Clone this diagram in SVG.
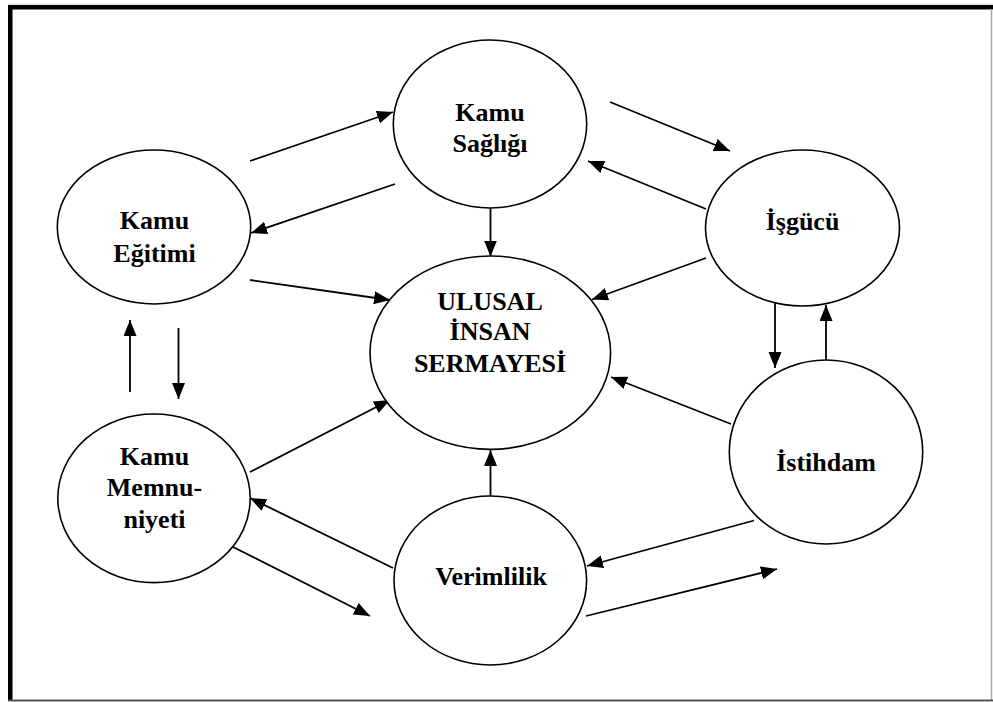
<svg xmlns="http://www.w3.org/2000/svg" width="993" height="702" viewBox="0 0 993 702">
<style>
.node ellipse{fill:#fff;stroke:#000;stroke-width:1.6}
.node text{font-family:"Liberation Serif","Times New Roman",serif;font-weight:bold;font-size:26px;fill:#000;text-anchor:middle}
.conn line{stroke:#000;stroke-width:1.8;marker-end:url(#ah)}
</style>
<defs>
<marker id="ah" markerUnits="userSpaceOnUse" markerWidth="17" markerHeight="14" refX="16" refY="6.5" orient="auto">
<path d="M0,0 L16,6.5 L0,13 z" fill="#000"/>
</marker>
</defs>
<rect width="993" height="702" fill="#fff"/>
<g id="frame">
<line x1="8" y1="4" x2="993" y2="4" stroke="#ccc" stroke-width="1"/>
<rect x="8" y="5" width="985" height="4.5" fill="#000"/>
<rect x="8" y="5" width="4.5" height="696" fill="#000"/>
<line x1="991.5" y1="9" x2="991.5" y2="701" stroke="#aaa" stroke-width="1.5"/>
<line x1="8" y1="700.5" x2="993" y2="700.5" stroke="#555" stroke-width="2"/>
</g>
<g class="conn" id="connectors">
<line x1="250" y1="161" x2="393" y2="112"/>
<line x1="395" y1="184" x2="251" y2="233"/>
<line x1="250" y1="280" x2="390" y2="300"/>
<line x1="490.5" y1="208" x2="490.5" y2="256.5"/>
<line x1="706" y1="258" x2="592" y2="299.5"/>
<line x1="706" y1="209" x2="588" y2="161"/>
<line x1="610" y1="102" x2="730" y2="151"/>
<line x1="775" y1="300" x2="775" y2="368"/>
<line x1="826" y1="378" x2="826" y2="305"/>
<line x1="731" y1="424" x2="611" y2="377"/>
<line x1="754" y1="520.5" x2="587" y2="566"/>
<line x1="586" y1="616" x2="777" y2="569"/>
<line x1="490.5" y1="496" x2="490.5" y2="450"/>
<line x1="250" y1="472" x2="390" y2="400"/>
<line x1="393" y1="568" x2="250" y2="498"/>
<line x1="227" y1="544" x2="370" y2="616"/>
<line x1="178.5" y1="328" x2="178.5" y2="399"/>
<line x1="130" y1="392" x2="130" y2="320"/>
</g>
<g class="node" id="kamu-sagligi">
<ellipse cx="490" cy="124" rx="96.7" ry="84"/>
<text x="490" y="120.7">Kamu</text>
<text x="490" y="151.7">Sağlığı</text>
</g>
<g class="node" id="kamu-egitimi">
<ellipse cx="154" cy="227" rx="96.7" ry="77"/>
<text x="154.5" y="229.3">Kamu</text>
<text x="154.5" y="261.7">Eğitimi</text>
</g>
<g class="node" id="ulusal">
<ellipse cx="490.3" cy="352.7" rx="120.3" ry="96.7"/>
<text x="490" y="310">ULUSAL</text>
<text x="490" y="340">İNSAN</text>
<text x="490" y="371.7">SERMAYESİ</text>
</g>
<g class="node" id="isgucu">
<ellipse cx="802.5" cy="228" rx="97" ry="78"/>
<text x="802.5" y="230">İşgücü</text>
</g>
<g class="node" id="istihdam">
<ellipse cx="826" cy="452" rx="96.7" ry="92"/>
<text x="826" y="471">İstihdam</text>
</g>
<g class="node" id="kamu-memnuniyeti">
<ellipse cx="154" cy="498.3" rx="96.2" ry="84.3"/>
<text x="154.5" y="465">Kamu</text>
<text x="154.5" y="496">Memnu-</text>
<text x="154.5" y="527.7">niyeti</text>
</g>
<g class="node" id="verimlilik">
<ellipse cx="490.3" cy="580.5" rx="96.3" ry="84.5"/>
<text x="491" y="585">Verimlilik</text>
</g>
</svg>
